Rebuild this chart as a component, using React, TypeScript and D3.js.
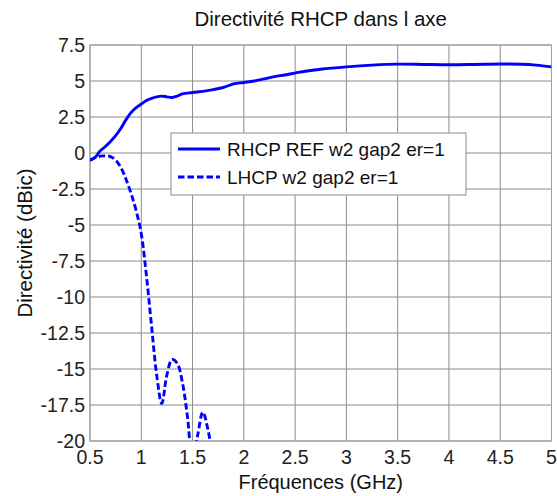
import React from "react";
import * as d3 from "d3";

const rhcpFreq = [0.5, 0.55, 0.6, 0.65, 0.7, 0.75, 0.8, 0.85, 0.9, 0.95, 1.0, 1.05, 1.1, 1.15, 1.2, 1.25, 1.3, 1.35, 1.4, 1.5, 1.6, 1.7, 1.8, 1.9, 2.0, 2.1, 2.2, 2.3, 2.4, 2.5, 2.6, 2.75, 3.0, 3.25, 3.5, 3.75, 4.0, 4.25, 4.5, 4.7, 4.85, 5.0];
const rhcpValues = [-0.5, -0.3, 0.15, 0.45, 0.8, 1.2, 1.7, 2.3, 2.8, 3.15, 3.4, 3.65, 3.8, 3.9, 3.95, 3.9, 3.85, 3.95, 4.1, 4.2, 4.28, 4.4, 4.55, 4.8, 4.9, 5.0, 5.15, 5.3, 5.42, 5.55, 5.68, 5.82, 5.98, 6.1, 6.17, 6.15, 6.13, 6.15, 6.18, 6.16, 6.1, 5.98];

const lhcpFreq = [0.5, 0.55, 0.6, 0.65, 0.7, 0.75, 0.8, 0.85, 0.9, 0.95, 1.0, 1.05, 1.1, 1.15, 1.2, 1.25, 1.3, 1.35, 1.4, 1.45, 1.5, 1.55, 1.6, 1.65, 1.7, 1.75];
const lhcpValues = [-0.5, -0.32, -0.22, -0.2, -0.25, -0.5, -1.0, -1.8, -2.8, -4.0, -5.6, -8.5, -12.0, -15.4, -17.4, -15.4, -14.35, -14.6, -15.9, -18.3, -21.5, -19.6, -18.0, -19.2, -21.5, -24];

const xTicks = [0.5, 1, 1.5, 2, 2.5, 3, 3.5, 4, 4.5, 5];
const yTicks = [7.5, 5, 2.5, 0, -2.5, -5, -7.5, -10, -12.5, -15, -17.5, -20];

const seriesNames = ["RHCP REF w2 gap2 er=1", "LHCP w2 gap2 er=1"];
const titleText = "Directivité RHCP dans l axe";
const xLabel = "Fréquences (GHz)";
const yLabel = "Directivité (dBic)";

export default function App() {
  const W = 557, H = 496;
  const left = 90, right = 551.5, top = 45, bottom = 441;
  const x = d3.scaleLinear().domain([0.5, 5]).range([left, right]);
  const y = d3.scaleLinear().domain([-20, 7.5]).range([bottom, top]);
  const font = "'Liberation Sans', Arial, sans-serif";

  const line = d3
    .line<[number, number]>()
    .x((d) => x(d[0]))
    .y((d) => y(d[1]))
    .curve(d3.curveCatmullRom.alpha(0.5));

  const rhcp = rhcpFreq.map((f, i) => [f, rhcpValues[i]] as [number, number]);
  const lhcp = lhcpFreq.map((f, i) => [f, lhcpValues[i]] as [number, number]);

  return (
    <svg width={W} height={H} style={{ position: "absolute", left: 0, top: 0, background: "#fff" }} fontFamily={font}>
      <defs>
        <clipPath id="plotClip">
          <rect x={left} y={top} width={right - left} height={bottom - top} />
        </clipPath>
      </defs>
      <rect x={0} y={0} width={W} height={H} fill="#fff" />
      {xTicks.map((t) => (
        <line key={"gx" + t} x1={x(t)} x2={x(t)} y1={top} y2={bottom} stroke="#8c8c8c" strokeWidth={1} />
      ))}
      {yTicks.map((t) => (
        <line key={"gy" + t} x1={left} x2={right} y1={y(t)} y2={y(t)} stroke="#8c8c8c" strokeWidth={1} />
      ))}
      <rect x={left} y={top} width={right - left} height={bottom - top} fill="none" stroke="#a0a0a0" strokeWidth={1} />
      <g clipPath="url(#plotClip)">
        <path d={line(rhcp) || ""} fill="none" stroke="#0000ff" strokeWidth={2.9} />
        <path d={line(lhcp) || ""} fill="none" stroke="#0000ff" strokeWidth={2.9} strokeDasharray="6.5,3" />
      </g>
      {xTicks.map((t) => (
        <text key={"tx" + t} x={x(t)} y={463.5} textAnchor="middle" fontSize={19.5} fill="#222">
          {String(t)}
        </text>
      ))}
      {yTicks.map((t) => (
        <text key={"ty" + t} x={85} y={y(t)} dy="0.35em" textAnchor="end" fontSize={19.5} fill="#222">
          {String(t)}
        </text>
      ))}
      <text x={(left + right) / 2} y={26} textAnchor="middle" fontSize={20.5} fill="#111">
        {titleText}
      </text>
      <text x={(left + right) / 2} y={489} textAnchor="middle" fontSize={20} fill="#111">
        {xLabel}
      </text>
      <text transform={`translate(32, ${(top + bottom) / 2}) rotate(-90)`} textAnchor="middle" fontSize={20.5} fill="#111">
        {yLabel}
      </text>
      <g>
        <rect x={171} y={133} width={295} height={62} fill="#fff" stroke="#8c8c8c" strokeWidth={1} />
        <line x1={178} x2={220} y1={149} y2={149} stroke="#0000ff" strokeWidth={2.9} />
        <line x1={178} x2={220} y1={177} y2={177} stroke="#0000ff" strokeWidth={2.9} strokeDasharray="6.5,3" />
        <text x={227} y={149} dy="0.35em" fontSize={19} fill="#111">{seriesNames[0]}</text>
        <text x={227} y={177} dy="0.35em" fontSize={19} fill="#111">{seriesNames[1]}</text>
      </g>
    </svg>
  );
}
